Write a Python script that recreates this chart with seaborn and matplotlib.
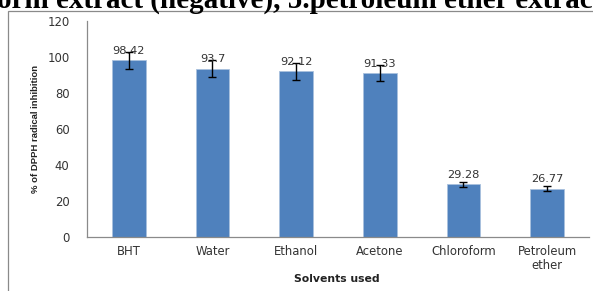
import numpy as np
import pandas as pd
import seaborn as sns
import matplotlib.pyplot as plt
from matplotlib.patches import Rectangle

solvents = ['BHT', 'Water', 'Ethanol', 'Acetone', 'Chloroform', 'Petroleum\nether']
inhibition = [98.42, 93.7, 92.12, 91.33, 29.28, 26.77]
err = [4.8, 4.8, 4.6, 4.4, 1.4, 1.3]
yticks = [0, 20, 40, 60, 80, 100, 120]

df = pd.DataFrame({'solvent': solvents, 'inhibition': inhibition})

sns.set_style('white')
plt.rcParams['font.family'] = ['DejaVu Sans']

W, H = 593, 291
fig = plt.figure(figsize=(W / 100, H / 100), dpi=100)

# grey frame of the chart area (runs off right/bottom)
fig.patches.append(Rectangle((8 / W, -0.2), 1.2, 1.2 - 11 / H,
                             transform=fig.transFigure, fill=False,
                             edgecolor='#8a8a8a', linewidth=0.9))

# cut caption line from the document above
fig.text(-3 / W, 1 - 7.3 / H, 'orm extract (negative), 5.petroleum ether extract',
         family='Liberation Serif', weight='bold', fontsize=21,
         ha='left', va='baseline', color='black')

ax = fig.add_axes([87 / W, 1 - 236.7 / H, (589 - 87) / W, (236.7 - 21.4) / H])
sns.barplot(data=df, x='solvent', y='inhibition', color='#4F81BD', width=0.4,
            edgecolor='#A9C1DE', linewidth=0.6, saturation=1, errorbar=None, ax=ax)
ax.errorbar(x=np.arange(len(solvents)), y=inhibition, yerr=err, fmt='none',
            ecolor='black', elinewidth=1, capsize=3, capthick=1)

for i, v in enumerate(inhibition):
    ax.annotate(f'{v:g}', (i, v), xytext=(0, 4.5), textcoords='offset points',
                ha='center', va='baseline', fontsize=8.2, color='#333333')

ax.set_xlim(-0.5, len(solvents) - 0.5)
ax.set_ylim(0, 120)
ax.set_yticks(yticks)
ax.set_xticks(np.arange(len(solvents)))
ax.set_xticklabels(solvents, linespacing=1.1)
ax.set_xticks(np.arange(len(solvents) + 1) - 0.5, minor=True)
ax.tick_params(axis='x', which='major', length=0, pad=6, labelsize=8.4, labelcolor='#333333')
ax.tick_params(axis='x', which='minor', length=3, width=0.8, color='#8a8a8a', direction='out')
ax.tick_params(axis='y', length=3.6, width=0.8, color='#8a8a8a', direction='out',
               pad=9, labelsize=8.4, labelcolor='#333333')

for s in ['top', 'right']:
    ax.spines[s].set_visible(False)
for s in ['left', 'bottom']:
    ax.spines[s].set_color('#8a8a8a')
    ax.spines[s].set_linewidth(0.9)

ax.set_xlabel('Solvents used', fontsize=7.8, fontweight='bold', color='#222222')
ax.xaxis.set_label_coords(0.497, -0.195)
ax.xaxis.label.set_verticalalignment('center')
ax.set_ylabel('% of DPPH radical inhibition', fontsize=6.8, fontweight='bold',
              family='Liberation Sans', labelpad=5, color='#222222')

fig.savefig('out.png', dpi=100)
